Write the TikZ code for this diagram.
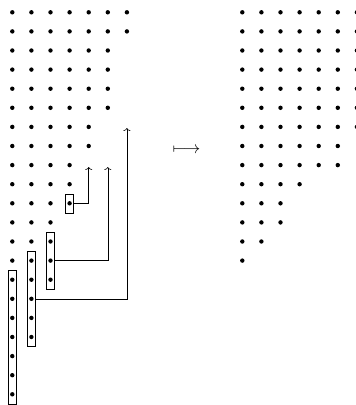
\documentclass[tikz,border=0pt]{standalone}
\usetikzlibrary{arrows.meta}
\begin{document}
\begin{tikzpicture}[x=1pt,y=-1pt,
  dotc/.style={fill=black},
  colbox/.style={draw, line width=0.6pt, inner sep=0pt, minimum width=7.7pt},
  conn/.style={line width=0.6pt, -{To[length=3pt,width=7pt]}}]
\useasboundingbox (0,0) rectangle (356,405);
\clip (0,0) rectangle (356,405);
% left diagram (columns)
\foreach \c/\m in {0/20,1/17,2/14,3/10,4/7,5/5,6/1} {
  \foreach \r in {0,...,\m} {
    \fill[dotc] ({12.3+19.1*\c},{12.3+19.1*\r}) circle (2.2pt);
  }
}
% right diagram (rows)
\foreach \r/\m in {0/7,1/7,2/7,3/7,4/7,5/7,6/7,7/5,8/5,9/3,10/2,11/2,12/1,13/0} {
  \foreach \c in {0,...,\m} {
    \fill[dotc] ({242.3+19.1*\c},{12.3+19.1*\r}) circle (2.2pt);
  }
}
% boxes
\node[colbox, minimum height=133.6pt] (b1) at (12.3,337.0) {};
\node[colbox, minimum height=95.4pt] (b2) at (31.4,298.8) {};
\node[colbox, minimum height=57.2pt] (b3) at (50.5,260.6) {};
\node[colbox, minimum height=19pt] (b4) at (69.6,203.3) {};
% arrow targets
\coordinate (t4) at (88.7,167);
\coordinate (t3) at (107.8,167);
\coordinate (t2) at (126.9,128);
\draw[conn] (b4.east) -| (t4);
\draw[conn] (b3.east) -| (t3);
\draw[conn] (b2.east) -| (t2);
% map symbol
\node[inner sep=0pt] (map) at (186.5,150.7) {\fontsize{19}{21}\selectfont$\longmapsto$};
\end{tikzpicture}
\end{document}
